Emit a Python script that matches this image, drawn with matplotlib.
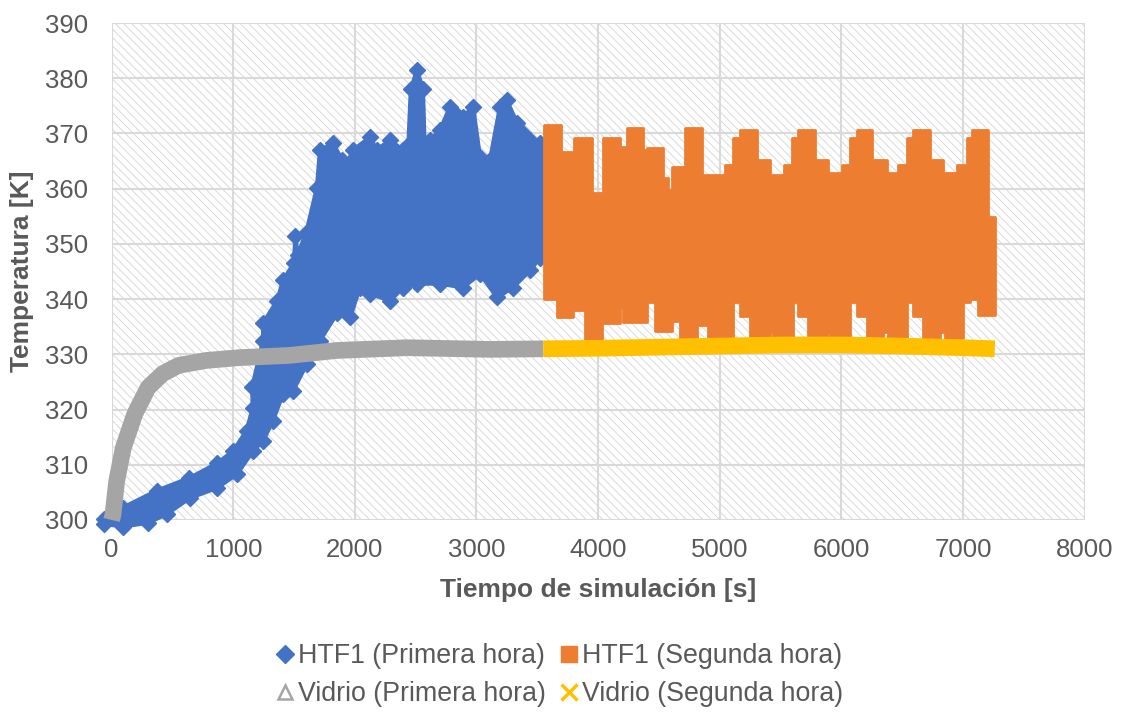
"""
Temperatura del HTF1 y del vidrio frente al tiempo de simulacion
"""

import numpy as np
import matplotlib.pyplot as plt
from matplotlib.lines import Line2D
from matplotlib.patches import Rectangle

plt.rcParams['font.family'] = ['Liberation Sans', 'DejaVu Sans']
plt.rcParams['hatch.linewidth'] = 0.6

# HTF1 primera hora: envolvente superior e inferior de la nube de puntos
htf1_p_top_t = [-60, 90, 370, 640, 870, 1000, 1110, 1160, 1155, 1245, 1245, 1360, 1410, 1500,
                1510, 1530, 1600, 1688, 1713, 1822, 1894, 1900, 1985, 2124, 2181, 2288, 2395,
                2440, 2460, 2511, 2560, 2575, 2618, 2700, 2782, 2830, 2889, 2972, 3029, 3111,
                3193, 3250, 3333, 3383, 3440, 3522, 3560]
htf1_p_top_T = [300.2, 302.2, 305.3, 307.6, 310.3, 312.5, 316.2, 320.3, 324.0, 332.5, 335.6, 339.7,
                343.4, 346.6, 351.5, 348.0, 352.0, 360.2, 367.0, 368.2, 365.2, 362.8, 367.0, 369.3,
                367.0, 368.8, 367.0, 368.0, 378.0, 381.5, 378.0, 366.4, 368.8, 370.6, 374.8, 373.5,
                373.0, 374.8, 365.7, 365.2, 374.8, 376.0, 371.9, 370.0, 368.8, 368.2, 366.0]
htf1_p_low_t = [-60, 93, 300, 455, 644, 866, 1030, 1162, 1244, 1327, 1409, 1491, 1606, 1713,
                1853, 1960, 2042, 2124, 2289, 2396, 2511, 2700, 2889, 3030, 3169, 3300, 3440,
                3522, 3560]
htf1_p_low_T = [299.3, 298.8, 299.5, 301.1, 304.0, 305.8, 308.3, 312.5, 314.3, 318.0, 322.9, 323.4,
                328.3, 332.5, 337.4, 336.7, 342.1, 341.0, 339.7, 342.1, 342.8, 342.8, 342.1, 344.6,
                340.3, 342.1, 345.2, 347.5, 348.0]

# HTF1 segunda hora: escalones de la envolvente (inicio de cada tramo y nivel)
htf1_s_end = 7262
htf1_s_top_t = [3551, 3692, 3800, 3950, 4040, 4180, 4240, 4370, 4400, 4535, 4575, 4610, 4715,
                4855, 5045, 5110, 5170, 5310, 5415, 5525, 5595, 5645, 5785, 5890, 6005, 6072,
                6130, 6253, 6376, 6467, 6541, 6590, 6730, 6836, 6952, 7034, 7075, 7207]
htf1_s_top_T = [371.5, 366.6, 369.1, 359.2, 369.1, 367.5, 371.0, 367.0, 367.3, 362.0, 359.7, 363.9,
                371.0, 362.4, 364.2, 369.1, 370.6, 365.2, 362.4, 364.2, 369.1, 370.6, 365.2, 362.8,
                364.2, 369.1, 370.6, 365.2, 362.8, 364.2, 369.1, 370.6, 365.2, 362.8, 364.2, 369.1,
                370.6, 354.8]
htf1_s_low_t = [3551, 3663, 3794, 3893, 4033, 4181, 4205, 4403, 4469, 4609, 4674, 4815, 4905,
                5110, 5168, 5250, 5415, 5440, 5605, 5645, 5725, 5882, 5906, 6072, 6130, 6212,
                6343, 6384, 6541, 6590, 6672, 6812, 6853, 7002, 7059, 7124]
htf1_s_low_T = [340.1, 336.7, 338.1, 332.5, 335.6, 338.5, 335.9, 339.4, 334.3, 336.1, 332.8, 335.4,
                332.7, 339.5, 336.9, 332.9, 334.3, 332.9, 339.5, 336.9, 332.9, 334.0, 332.9, 339.5,
                336.9, 332.9, 334.0, 332.9, 339.5, 336.9, 332.9, 334.0, 332.9, 339.5, 340.1, 337.2]

# Vidrio
vidrio_p_t = [0, 11, 41, 95, 190, 300, 420, 550, 780, 1050, 1460, 1850, 2430, 3110, 3550]
vidrio_p_T = [300.0, 301.0, 307.0, 313.0, 319.2, 324.0, 326.5, 328.0, 328.9, 329.4, 329.8,
              330.7, 331.2, 330.9, 331.0]
vidrio_s_t = [3550, 4000, 4500, 5000, 5500, 6000, 6500, 7000, 7262]
vidrio_s_T = [331.0, 331.1, 331.3, 331.5, 331.7, 331.7, 331.5, 331.2, 331.0]

x_ticks = list(range(0, 8001, 1000))
y_ticks = list(range(300, 391, 10))

BLUE = '#4472C4'
ORANGE = '#ED7D31'
GREY = '#A5A5A5'
YELLOW = '#FFC000'
TEXT = '#595959'


def step_outline(starts, levels, end):
    xs = np.repeat(np.append(starts, end), 2)[1:-1]
    ys = np.repeat(levels, 2)
    return xs, ys


fig = plt.figure(figsize=(11.21, 7.13), dpi=100)
ax = fig.add_axes([0.0996, 0.2707, 0.8679, 0.697])

# fondo rayado del area de trazado
ax.add_patch(Rectangle((0, 0), 1, 1, transform=ax.transAxes, facecolor='white',
                       edgecolor='#d4d4d4', linewidth=0, hatch='\\\\\\\\', zorder=0))

# HTF1 primera hora
bx = np.concatenate([htf1_p_top_t, htf1_p_low_t[::-1]])
by = np.concatenate([htf1_p_top_T, htf1_p_low_T[::-1]])
ax.fill(bx, by, facecolor=BLUE, edgecolor=BLUE, linewidth=3, joinstyle='round',
        zorder=3, clip_on=False)
ax.plot(htf1_p_top_t, htf1_p_top_T, 'D', color=BLUE, ms=8, zorder=3, clip_on=False)
ax.plot(htf1_p_low_t, htf1_p_low_T, 'D', color=BLUE, ms=8, zorder=3, clip_on=False)

# HTF1 segunda hora
ux, uy = step_outline(htf1_s_top_t, htf1_s_top_T, htf1_s_end)
lx, ly = step_outline(htf1_s_low_t, htf1_s_low_T, htf1_s_end)
ax.fill(np.concatenate([ux, lx[::-1]]), np.concatenate([uy, ly[::-1]]),
        facecolor=ORANGE, edgecolor=ORANGE, linewidth=2, joinstyle='round', zorder=4)

# Vidrio
ax.plot(vidrio_p_t, vidrio_p_T, color=GREY, linewidth=12, solid_capstyle='butt',
        zorder=5, clip_on=False)
ax.plot(vidrio_s_t, vidrio_s_T, color=YELLOW, linewidth=12, solid_capstyle='butt',
        zorder=6, clip_on=False)

ax.set_xlim(0, 8000)
ax.set_ylim(300, 390)
ax.set_xticks(x_ticks)
ax.set_yticks(y_ticks)
ax.tick_params(length=0, labelsize=18.5, labelcolor=TEXT)
ax.tick_params(axis='x', pad=13)
ax.tick_params(axis='y', pad=17)
ax.grid(True, color='#d9d9d9', linewidth=1.5, zorder=1)
ax.set_axisbelow(True)
for side in ax.spines.values():
    side.set_visible(False)
ax.axvline(8000, color='#d9d9d9', linewidth=1.5, zorder=1)

fig.text(0.5335, 0.172, 'Tiempo de simulación [s]', ha='center', va='center',
         fontsize=19, fontweight='bold', color=TEXT)
fig.text(0.0196, 0.6195, 'Temperatura [K]', ha='center', va='center', rotation=90,
         fontsize=19, fontweight='bold', color=TEXT)

handles = [
    Line2D([], [], linestyle='none', marker='D', color=BLUE, ms=9),
    Line2D([], [], linestyle='none', marker='^', markerfacecolor='white',
           markeredgecolor=GREY, markeredgewidth=1.8, ms=10),
    Line2D([], [], linestyle='none', marker='s', color=ORANGE, ms=12),
    Line2D([], [], linestyle='none', marker='x', color=YELLOW, markeredgewidth=2.5, ms=11),
]
labels = ['HTF1 (Primera hora)', 'Vidrio (Primera hora)',
          'HTF1 (Segunda hora)', 'Vidrio (Segunda hora)']
leg = fig.legend(handles, labels, loc='center', bbox_to_anchor=(0.5, 0.053), ncol=2,
                 frameon=False, fontsize=19.3, handlelength=0.55, handletextpad=0.2,
                 columnspacing=0.6, labelspacing=0.45, labelcolor=TEXT)

fig.savefig('out.png', dpi=100)
